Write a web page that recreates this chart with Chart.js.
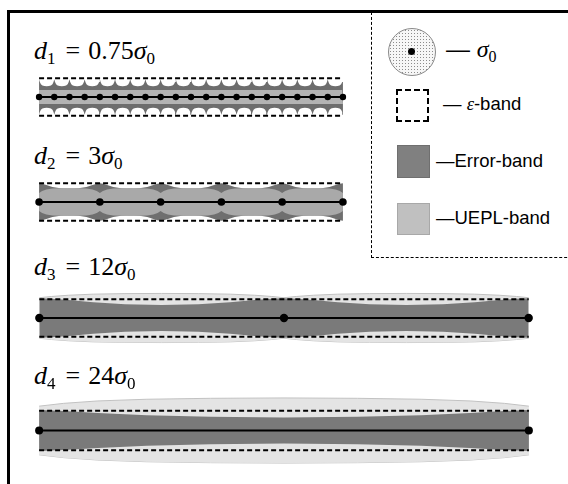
<!DOCTYPE html>
<html>
<head>
<meta charset="utf-8">
<script src="https://cdn.jsdelivr.net/npm/chart.js@4.4.1/dist/chart.umd.min.js"></script>
<style>
html, body { margin: 0; padding: 0; background: #fff; }
#page { position: relative; width: 568px; height: 484px; overflow: hidden; }
.frame-left { position: absolute; left: 7px; top: 10px; width: 2.5px; height: 474px; background: #000; }
.frame-top { position: absolute; left: 7px; top: 10px; width: 561px; height: 2.5px; background: #000; }
.legend-box { position: absolute; left: 371px; top: 12px; width: 210px; height: 245px;
  border-left: 1px dashed #000; border-bottom: 1px dashed #000; }
canvas.strip { position: absolute; }
.lab { position: absolute; left: 34px; font-family: 'Liberation Serif', serif; font-size: 26px;
  line-height: 1; white-space: nowrap; color: #000; }
.lab i { font-style: italic; }
.lab .s { font-size: 17px; position: relative; top: 5px; }
.lab .eq { margin: 0 8px 0 10px; }
.key { position: absolute; }
.key-txt { position: absolute; white-space: nowrap; font-family: 'Liberation Sans', Arial, sans-serif;
  font-size: 18.5px; line-height: 1; color: #000; }
.key-txt i { font-family: 'Liberation Serif', serif; }
</style>
</head>
<body>
<div id="page">
  <div class="frame-left"></div>
  <div class="frame-top"></div>
  <div class="legend-box"></div>
  <div id="legend"></div>
</div>
<script>
// scale: pixels per sigma_0, half-width of the epsilon band in sigma_0
const SIGMA_PX = 20.75;
const EPS = 1.05;

// knot spacing d_i (in sigma_0) and number of segments in each strip
const spacing = [0.75, 3, 12, 24];
const intervals = [20, 5, 2, 1];

// positions along one segment (0 = knot, 1 = next knot)
const profileT = [0, 0.05, 0.12, 0.22, 0.35, 0.5, 0.65, 0.78, 0.88, 0.95, 1];

// half-widths (sigma_0)
const errorHalf1 = [1.0, 0.84, 0.72, 0.65, 0.62, 0.61, 0.62, 0.65, 0.72, 0.84, 1.0];
const ueplHalf1 = [0.4, 0.4, 0.4, 0.4, 0.4, 0.4, 0.4, 0.4, 0.4, 0.4, 0.4];
const errorHalf2 = [1.05, 1.03, 0.96, 0.84, 0.77, 0.74, 0.77, 0.84, 0.96, 1.03, 1.05];
const ueplHalf2 = [0.5, 0.62, 0.71, 0.76, 0.78, 0.79, 0.78, 0.76, 0.71, 0.62, 0.5];
const errorHalf3 = [1.1, 1.08, 1.0, 0.88, 0.76, 0.72, 0.76, 0.88, 1.0, 1.08, 1.1];
const ueplHalf3 = [1.13, 1.2, 1.27, 1.33, 1.36, 1.37, 1.36, 1.33, 1.27, 1.2, 1.13];
const errorHalf4 = [1.1, 1.04, 0.94, 0.82, 0.73, 0.7, 0.73, 0.82, 0.94, 1.04, 1.1];
const ueplHalf4 = [1.3, 1.45, 1.58, 1.67, 1.72, 1.74, 1.72, 1.67, 1.58, 1.45, 1.3];

const errorHalf = [errorHalf1, errorHalf2, errorHalf3, errorHalf4];
const ueplHalf = [ueplHalf1, ueplHalf2, ueplHalf3, ueplHalf4];

// layout and styling of each strip
const stripLeft = 35;
const stripCenter = [97.3, 202, 318, 430.5];
const stripYmax = [1.35, 1.35, 1.55, 1.95];
const labelTop = [38, 143, 254, 363];
const dotRadius = [3.2, 3.8, 4.2, 4];
const errorColor = ['#6d6d6d', '#6f6f6f', '#7a7a7a', '#7a7a7a'];
const ueplColor = ['#b3b3b3', '#a9a9a9', '#e4e4e4', '#e4e4e4'];
const ueplEdge = [null, null, '#c2c2c2', '#c2c2c2'];
const ueplOnTop = [true, true, false, false];

function bandPoints(d, n, half, sign) {
    const pts = [];
    for (let i = 0; i < n; i++) {
        profileT.forEach((t, j) => {
            if (i > 0 && j === 0) return;
            pts.push({ x: (i + t) * d, y: sign * half[j] });
        });
    }
    return pts;
}

function band(d, n, half, color, edge, order) {
    const common = {
        borderColor: edge || 'rgba(0,0,0,0)',
        borderWidth: edge ? 1 : 0,
        pointRadius: 0,
        tension: 0,
        order: order
    };
    return [
        Object.assign({ data: bandPoints(d, n, half, 1), fill: '+1', backgroundColor: color }, common),
        Object.assign({ data: bandPoints(d, n, half, -1), fill: false }, common)
    ];
}

function drawStrip(k) {
    const d = spacing[k];
    const n = intervals[k];
    const pad = 0.3;
    const xmax = d * n;
    const w = Math.round((xmax + 2 * pad) * SIGMA_PX);
    const h = Math.round(2 * stripYmax[k] * SIGMA_PX);

    const canvas = document.createElement('canvas');
    canvas.className = 'strip';
    canvas.width = w;
    canvas.height = h;
    canvas.style.width = w + 'px';
    canvas.style.height = h + 'px';
    canvas.style.left = (stripLeft - pad * SIGMA_PX) + 'px';
    canvas.style.top = (stripCenter[k] - stripYmax[k] * SIGMA_PX) + 'px';
    document.getElementById('page').appendChild(canvas);

    const knots = [];
    for (let i = 0; i <= n; i++) knots.push({ x: i * d, y: 0 });

    const top = ueplOnTop[k];
    const datasets = [
        {
            data: knots, borderColor: '#000', borderWidth: 2, tension: 0,
            pointRadius: dotRadius[k], pointBackgroundColor: '#000', pointBorderWidth: 0,
            fill: false, order: 0
        },
        {
            data: [{ x: 0, y: EPS }, { x: xmax, y: EPS }], borderColor: '#000', borderWidth: 2,
            borderDash: [5, 3], pointRadius: 0, fill: false, order: 1
        },
        {
            data: [{ x: 0, y: -EPS }, { x: xmax, y: -EPS }], borderColor: '#000', borderWidth: 2,
            borderDash: [5, 3], pointRadius: 0, fill: false, order: 1
        }
    ].concat(
        band(d, n, errorHalf[k], errorColor[k], null, top ? 3 : 2),
        band(d, n, ueplHalf[k], ueplColor[k], ueplEdge[k], top ? 2 : 3)
    );

    new Chart(canvas, {
        type: 'line',
        data: { datasets: datasets },
        options: {
            responsive: false,
            animation: false,
            devicePixelRatio: 1,
            layout: { padding: 0 },
            plugins: { legend: { display: false }, tooltip: { enabled: false } },
            scales: {
                x: { type: 'linear', min: -pad, max: xmax + pad, display: false },
                y: { type: 'linear', min: -stripYmax[k], max: stripYmax[k], display: false }
            }
        }
    });

    const lab = document.createElement('div');
    lab.className = 'lab';
    lab.style.top = labelTop[k] + 'px';
    lab.innerHTML = '<i>d</i><span class="s">' + (k + 1) + '</span><span class="eq">=</span>' +
        d + '<i>σ</i><span class="s">0</span>';
    document.getElementById('page').appendChild(lab);
}

for (let k = 0; k < spacing.length; k++) drawStrip(k);

// legend keys
const legend = document.getElementById('legend');
legend.innerHTML =
    '<div class="key" style="left:388px;top:28px;width:46px;height:46px;border:1px solid #8a8a8a;border-radius:50%;' +
    'background:radial-gradient(circle, #8c8c8c 0.7px, rgba(0,0,0,0) 0.9px) 0 0/3px 3px, #f7f7f7;"></div>' +
    '<div class="key" style="left:408px;top:48px;width:7px;height:7px;border-radius:50%;background:#000;"></div>' +
    '<div class="key-txt" style="left:446px;top:37px;font-size:24px;">&#8212; <i>σ</i><span style="font-family:\'Liberation Serif\';font-size:16px;position:relative;top:5px;">0</span></div>' +
    '<div class="key" style="left:396px;top:89px;width:29px;height:29px;border:2.5px dashed #000;"></div>' +
    '<div class="key-txt" style="left:443px;top:95px;">&#8212; <i>ε</i>-band</div>' +
    '<div class="key" style="left:397px;top:145px;width:31px;height:31px;background:#808080;border:1px solid #6f6f6f;"></div>' +
    '<div class="key-txt" style="left:436px;top:152px;">&#8212;Error-band</div>' +
    '<div class="key" style="left:397px;top:203px;width:31px;height:30px;background:#c0c0c0;border:1px solid #a8a8a8;"></div>' +
    '<div class="key-txt" style="left:436px;top:209px;">&#8212;UEPL-band</div>';
</script>
</body>
</html>
